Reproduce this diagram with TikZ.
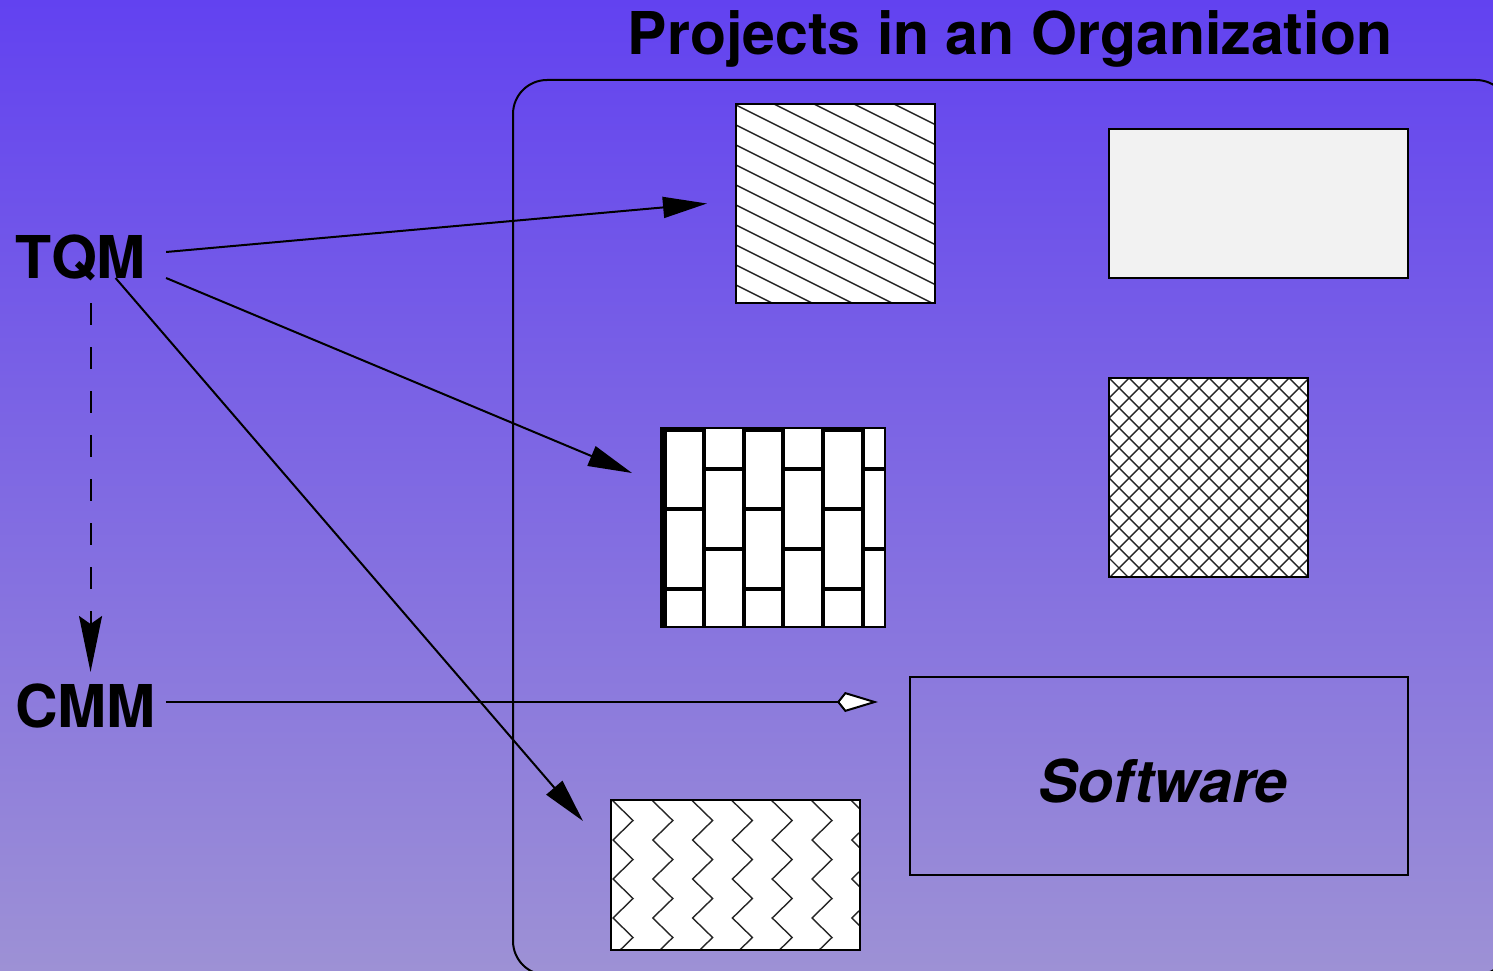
\documentclass[tikz,border=0pt]{standalone}
\usepackage{fontspec}
\setmainfont{TeX Gyre Heros}
\usetikzlibrary{arrows.meta,calc}
\definecolor{bgtop}{RGB}{98,66,240}
\definecolor{bgbot}{RGB}{157,145,213}
\definecolor{paleg}{RGB}{242,242,242}
\tikzset{
 lbl/.style={font=\fontsize{59}{59}\selectfont\bfseries, inner ysep=0pt, text height=43pt, text depth=0pt, outer sep=0pt},
 box/.style={draw=black, line width=2pt, fill=white, inner sep=0pt, outer sep=0pt},
 conn/.style={line width=2pt, -{Triangle[length=44pt,width=21pt]}},
 hatch/.style={line width=1.4pt, black!85},
 brick/.style={line width=4pt, black},
}
\begin{document}
\begin{tikzpicture}[x=1pt,y=-1pt]
\useasboundingbox (0,0) rectangle (1493,971);
\shade[top color=bgtop, bottom color=bgbot] (0,0) rectangle (1493,971);

% organization frame
\node[draw, line width=2pt, rounded corners=34pt, minimum width=997pt, minimum height=895pt, inner sep=0pt, outer sep=0pt] (org) at (1011.5,527.5) {};
\node[lbl, anchor=base] (title) at (1010,55) {Projects in an Organization};

% labels
\node[lbl, inner xsep=20pt, anchor=base west] (tqm) at (-5,278) {TQM};
\node[lbl, inner xsep=10pt, anchor=base west] (cmm) at (5,727) {CMM};

% box 1: diagonal lines
\node[box, minimum width=199pt, minimum height=199pt] (b1) at (835.5,203.5) {};
\begin{scope}
 \clip (b1.south west) rectangle (b1.north east);
 \foreach \k in {-8,...,10} \draw[hatch] (726,{125+20*\k-5}) -- (945,{125+20*\k+104.5});
\end{scope}
\draw[line width=2pt] (b1.south west) rectangle (b1.north east);

% box 2: plain
\node[box, fill=paleg, minimum width=299pt, minimum height=149pt] (b2) at (1258.5,203.5) {};

% box 3: bricks
\node[box, minimum width=224pt, minimum height=199pt] (b3) at (773,527.5) {};
\begin{scope}
 \clip (b3.south west) rectangle (b3.north east);
 \draw[line width=6pt] (664,428) -- (664,627);
 \foreach \x in {704,744,783,823,863} \draw[brick] (\x,428) -- (\x,627);
 \foreach \a/\b in {664/704,744/783,823/863} {
   \foreach \y in {430,509,589} \draw[brick] (\a,\y) -- (\b,\y);
 }
 \foreach \a/\b in {704/744,783/823,863/885} {
   \foreach \y in {469,549} \draw[brick] (\a,\y) -- (\b,\y);
 }
\end{scope}
\draw[line width=2pt] (b3.south west) rectangle (b3.north east);

% box 4: crosshatch
\node[box, minimum width=199pt, minimum height=199pt] (b4) at (1208.5,477.5) {};
\begin{scope}
 \clip (b4.south west) rectangle (b4.north east);
 \foreach \k in {-10,...,10} {
   \draw[hatch] ({1109+20*\k},378) -- ++(199,199);
   \draw[hatch] ({1309-20*\k},378) -- ++(-199,199);
 }
\end{scope}
\draw[line width=2pt] (b4.south west) rectangle (b4.north east);

% box 5: zigzag
\node[box, minimum width=249pt, minimum height=150pt] (b5) at (735.5,875) {};
\begin{scope}
 \clip (b5.south west) rectangle (b5.north east);
 \foreach \k in {0,...,6} {
   \pgfmathsetmacro{\xl}{613+39.8*\k}
   \draw[hatch, line join=miter] ({\xl+20},781.5)
     \foreach \j in {0,...,4} { -- (\xl,{801+39*\j}) -- ({\xl+20},{820.5+39*\j}) };
 }
\end{scope}
\draw[line width=2pt] (b5.south west) rectangle (b5.north east);

% software box
\node[box, fill=none, minimum width=498pt, minimum height=198pt] (sw) at (1159,776) {};
\node[lbl, font=\fontsize{59}{59}\selectfont\bfseries\itshape, anchor=base] (swl) at (1163,802) {Software};

% connectors
\draw[conn] ([yshift=4.5pt]tqm.east) -- ([xshift=-29pt]b1.west);
\draw[conn] (tqm.south east) -- ([xshift=-29pt,yshift=-45pt]b3.north west);
\draw[conn] ([xshift=35pt]tqm.south) -- ([xshift=-28pt,yshift=-21pt]b5.north west);

\coordinate (dtop) at ([xshift=10pt,yshift=-25pt]tqm.south);
\coordinate (dbot) at (dtop |- cmm.north);
\draw[line width=2pt, dash pattern=on 22pt off 22pt, -{Stealth[length=56pt,width=23pt,inset=8pt]}] (dtop) -- ([yshift=12pt]dbot);

\coordinate (cs) at ([yshift=3.5pt]cmm.east);
\coordinate (ce) at ([xshift=-32pt]sw.west);
\draw[line width=2pt, -{Kite[length=41pt,width=20pt,inset=8pt,fill=white]}] (cs) -- (cs -| ce);
\end{tikzpicture}
\end{document}
